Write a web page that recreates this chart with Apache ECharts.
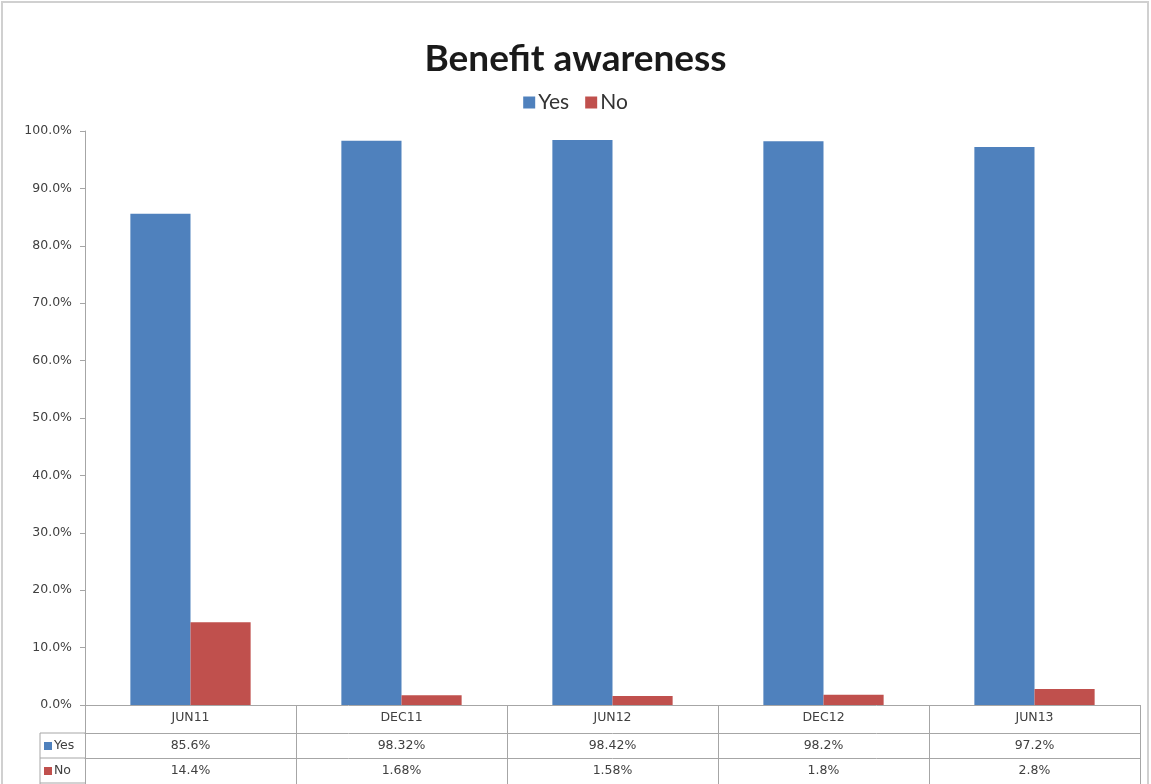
<!DOCTYPE html>
<html><head><meta charset="utf-8">
<script src="https://cdn.jsdelivr.net/npm/echarts@6/dist/echarts.min.js"></script>
<style>html,body{margin:0;padding:0;background:#fff}#c{width:1151px;height:784px}</style>
</head><body><div id="c"></div>
<script>
const categories = ['JUN11', 'DEC11', 'JUN12', 'DEC12', 'JUN13'];
const yesValues = [85.6, 98.32, 98.42, 98.2, 97.2];
const noValues = [14.4, 1.68, 1.58, 1.8, 2.8];
const seriesNames = ['Yes', 'No'];
const colors = ['#4F81BD', '#C0504D'];

const chart = echarts.init(document.getElementById('c'));
const lineColor = '#a6a6a6';
const tblFont = {color: '#404040', fontSize: 12.5, fontFamily: 'DejaVu Sans'};

function tableAxis(idx, offset, rowH, fmt) {
  return {
    type: 'category', data: categories, position: 'bottom', offset: offset,
    gridIndex: 0,
    axisLine: {show: true, lineStyle: {color: lineColor}},
    axisTick: {show: true, length: rowH, lineStyle: {color: lineColor}},
    axisLabel: Object.assign({margin: 6, formatter: fmt}, tblFont),
    splitLine: {show: false}
  };
}

const option = {
  animation: false,
  backgroundColor: '#fff',
  title: {
    text: 'Benefit awareness', left: 'center', top: 36,
    textStyle: {fontSize: 37, fontWeight: 'bold', color: '#1a1a1a', fontFamily: 'Lato'}
  },
  legend: {
    data: seriesNames, top: 87, left: 'center', itemWidth: 12, itemHeight: 12, itemGap: 16,
    icon: 'rect',
    textStyle: {fontSize: 21, color: '#333', fontFamily: 'Lato', padding: [0, 0, 0, -2]}
  },
  grid: {left: 85, right: 11, top: 131, bottom: 79},
  xAxis: [
    tableAxis(0, 0, 28, (v) => v),
    tableAxis(1, 28, 25, (v, i) => yesValues[i] + '%'),
    tableAxis(2, 53, 26, (v, i) => noValues[i] + '%')
  ],
  yAxis: {
    type: 'value', min: 0, max: 100, interval: 10,
    axisLine: {show: true, lineStyle: {color: lineColor}},
    axisTick: {show: true, length: 5, lineStyle: {color: lineColor}},
    splitLine: {show: false},
    axisLabel: {formatter: (v) => v.toFixed(1) + '%', color: '#404040', fontSize: 12.5, fontFamily: 'DejaVu Sans', margin: 13}
  },
  series: [
    {name: seriesNames[0], type: 'bar', data: yesValues, itemStyle: {color: colors[0]}, barGap: '0%', barCategoryGap: '43%'},
    {name: seriesNames[1], type: 'bar', data: noValues, itemStyle: {color: colors[1]}, barGap: '0%', barCategoryGap: '43%'}
  ]
};
chart.setOption(option);

// legend column of the data table
const x0 = chart.convertToPixel({xAxisIndex: 0}, categories[0]) - 105.5;
const yBase = chart.convertToPixel({yAxisIndex: 0}, 0);
const r1 = yBase + 28, r2 = yBase + 53, r3 = yBase + 79;
const lx = 40;
chart.setOption({
  graphic: [
    {type: 'rect', shape: {x: 2, y: 2, width: 1146, height: 800}, style: {fill: 'none', stroke: '#d0d0d0', lineWidth: 2}, silent: true},
    {type: 'line', shape: {x1: lx, y1: r1, x2: x0, y2: r1}, style: {stroke: lineColor}},
    {type: 'line', shape: {x1: lx, y1: r2, x2: x0, y2: r2}, style: {stroke: lineColor}},
    {type: 'line', shape: {x1: lx, y1: r3 - 1, x2: x0, y2: r3 - 1}, style: {stroke: lineColor}},
    {type: 'line', shape: {x1: lx, y1: r1, x2: lx, y2: r3}, style: {stroke: lineColor}},
    {type: 'rect', shape: {x: 44, y: r1 + 9, width: 8, height: 8}, style: {fill: colors[0]}},
    {type: 'text', x: 54, y: r1 + 13, style: {text: seriesNames[0], fill: '#404040', font: '12.5px DejaVu Sans', verticalAlign: 'middle'}},
    {type: 'rect', shape: {x: 44, y: r2 + 9, width: 8, height: 8}, style: {fill: colors[1]}},
    {type: 'text', x: 54, y: r2 + 13, style: {text: seriesNames[1], fill: '#404040', font: '12.5px DejaVu Sans', verticalAlign: 'middle'}}
  ]
});
</script></body></html>
